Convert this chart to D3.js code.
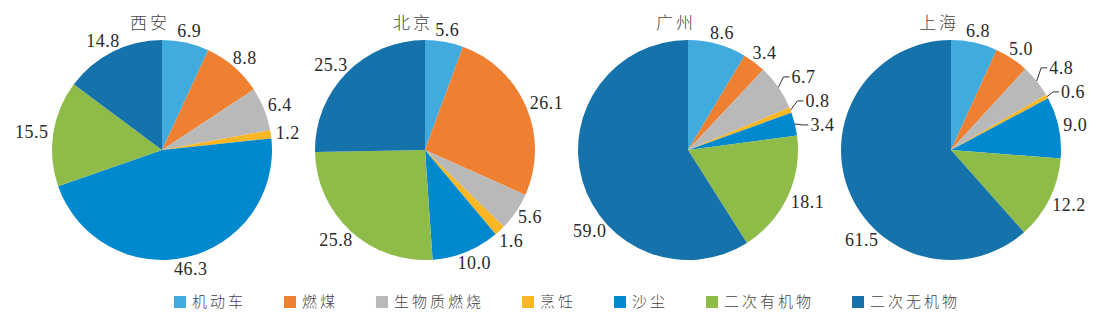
<!DOCTYPE html>
<html>
<head>
<meta charset="utf-8">
<script src="https://cdn.jsdelivr.net/npm/d3@7"></script>
<style>
  body { margin: 0; background: #fff; }
</style>
</head>
<body>
<svg id="drawing_region"></svg>
<script>
// source shares (%) per city
const categories = ["机动车", "燃煤", "生物质燃烧", "烹饪", "沙尘", "二次有机物", "二次无机物"];
const cities = ["西安", "北京", "广州", "上海"];
const xian = [6.9, 8.8, 6.4, 1.2, 46.3, 15.5, 14.8];
const beijing = [5.6, 26.1, 5.6, 1.6, 10.0, 25.8, 25.3];
const guangzhou = [8.6, 3.4, 6.7, 0.8, 3.4, 18.1, 59.0];
const shanghai = [6.8, 5.0, 4.8, 0.6, 9.0, 12.2, 61.5];
const colors = ["#42abdd", "#ef7f31", "#b9b9b9", "#fbb723", "#0089cf", "#8fbb49", "#1572aa"];

const cityValues = [xian, beijing, guangzhou, shanghai];

const width = 1106, height = 327;
const radius = 110, cy = 150;

const svg = d3.select("#drawing_region")
    .attr("width", width)
    .attr("height", height);

const xScale = d3.scalePoint()
    .domain(cities)
    .range([162, 951]);

const color = d3.scaleOrdinal()
    .domain(categories)
    .range(colors);

const pie = d3.pie()
    .sort(null)
    .value(d => d);

const arc = d3.arc()
    .innerRadius(0)
    .outerRadius(radius);

cities.forEach((city, ci) => {
    const values = cityValues[ci];
    const cx = xScale(city);
    const g = svg.append("g")
        .attr("transform", `translate(${cx},${cy})`);

    const arcs = pie(values);

    g.selectAll("path")
        .data(arcs)
        .enter()
        .append("path")
        .attr("d", arc)
        .attr("fill", (d, i) => color(categories[i]));

    g.append("text")
        .attr("x", -12)
        .attr("y", 29 - cy)
        .attr("text-anchor", "middle")
        .attr("font-family", "'Noto Sans CJK SC', sans-serif")
        .attr("font-weight", 300)
        .attr("font-size", 17)
        .attr("letter-spacing", 3)
        .attr("fill", "#444")
        .text(city);

    // label layout
    const labels = arcs.map((d, i) => {
        const v = values[i];
        const prev = i > 0 ? values[i - 1] : 99;
        const next = i < values.length - 1 ? values[i + 1] : 99;
        const leader = v < 1 || (v < 7 && (prev < 1 || next < 1));
        // very large slices get their label nearer their start, like Excel's best fit
        const frac = v > 50 ? 0.38 : 0.5;
        const a = d.startAngle + frac * (d.endAngle - d.startAngle);
        return { d, i, v, a, leader, text: v.toFixed(1) };
    });

    const lg = g.append("g")
        .attr("font-family", "'Liberation Serif', 'Times New Roman', serif")
        .attr("font-size", 18)
        .attr("letter-spacing", 0.5)
        .attr("fill", "#2a2a2a");

    labels.forEach(l => {
        const t = lg.append("text").text(l.text);
        l.node = t;
        l.w = t.node().getComputedTextLength();
        const s = Math.sin(l.a), c = Math.cos(l.a);
        const h = 14;
        if (l.leader) {
            const rr = radius + 16;
            const sx = rr * s;
            l.y = -rr * c;
            l.x = s >= 0 ? sx + l.w / 2 : sx - l.w / 2;
        } else {
            const rr = radius + 5;
            l.x = rr * s + s * l.w / 2;
            l.y = -rr * c - c * h / 2;
        }
        l.side = s >= 0 ? 1 : -1;
    });

    // push overlapping labels apart
    const gap = 24;
    for (let iter = 0; iter < 60; iter++) {
        [1, -1].forEach(side => {
            const group = labels.filter(l => l.side === side).sort((p, q) => p.y - q.y);
            for (let k = 1; k < group.length; k++) {
                const p = group[k - 1], q = group[k];
                const dy = q.y - p.y;
                if (Math.abs(p.x - q.x) < (p.w + q.w) / 2 && dy < gap) {
                    const m = (gap - dy) / 2;
                    p.y -= m;
                    q.y += m;
                }
            }
        });
    }

    labels.forEach(l => {
        l.node
            .attr("x", l.x)
            .attr("y", l.y)
            .attr("dy", "0.35em")
            .attr("text-anchor", "middle");
        if (l.leader) {
            const s = Math.sin(l.a), c = Math.cos(l.a);
            const ex = radius * s, ey = -radius * c;
            const sx = l.x - l.side * l.w / 2 - l.side * 2;
            lg.append("polyline")
                .attr("points", [[ex, ey], [sx - l.side * 6, l.y], [sx, l.y]].map(p => p.join(",")).join(" "))
                .attr("fill", "none")
                .attr("stroke", "#333")
                .attr("stroke-width", 1);
        }
    });
});

// legend
const legend = svg.append("g")
    .attr("font-family", "'Noto Sans CJK SC', sans-serif")
    .attr("font-weight", 300)
    .attr("font-size", 15)
    .attr("letter-spacing", 3)
    .attr("fill", "#444");

const items = legend.selectAll("g")
    .data(categories)
    .enter()
    .append("g");

items.append("rect")
    .attr("width", 12)
    .attr("height", 12)
    .attr("y", 296)
    .attr("fill", d => color(d));

items.append("text")
    .attr("x", 18)
    .attr("y", 302)
    .attr("dy", "0.35em")
    .text(d => d);

let offsets = [], total = 0;
items.each(function () {
    offsets.push(total);
    const w = d3.select(this).select("text").node().getComputedTextLength();
    total += 18 + w + (offsets.length < categories.length ? 38 : 0);
});
const startX = 567 - total / 2;
items.attr("transform", (d, i) => `translate(${startX + offsets[i]},0)`);
</script>
</body>
</html>
